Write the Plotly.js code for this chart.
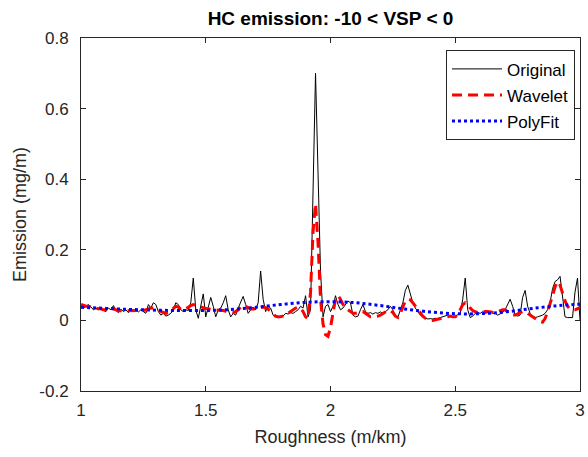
<!DOCTYPE html>
<html><head><meta charset="utf-8">
<script src="https://cdn.plot.ly/plotly-3.0.1.min.js"></script>
<style>html,body{margin:0;padding:0;background:#fff}#chart{width:588px;height:457px}</style>
</head><body><div id="chart"></div>
<script>
const roughness = [
1.00,1.01,1.02,1.03,1.04,1.05,1.06,1.07,1.08,1.09,
1.10,1.11,1.12,1.13,1.14,1.15,1.16,1.17,1.18,1.19,
1.20,1.21,1.22,1.23,1.24,1.25,1.26,1.27,1.28,1.29,
1.30,1.31,1.32,1.33,1.34,1.35,1.36,1.37,1.38,1.39,
1.40,1.41,1.42,1.43,1.44,1.45,1.46,1.47,1.48,1.49,
1.50,1.51,1.52,1.53,1.54,1.55,1.56,1.57,1.58,1.59,
1.60,1.61,1.62,1.63,1.64,1.65,1.66,1.67,1.68,1.69,
1.70,1.71,1.72,1.73,1.74,1.75,1.76,1.77,1.78,1.79,
1.80,1.81,1.82,1.83,1.84,1.85,1.86,1.87,1.88,1.89,
1.90,1.91,1.92,1.93,1.94,1.95,1.96,1.97,1.98,1.99,
2.00,2.01,2.02,2.03,2.04,2.05,2.06,2.07,2.08,2.09,
2.10,2.11,2.12,2.13,2.14,2.15,2.16,2.17,2.18,2.19,
2.20,2.21,2.22,2.23,2.24,2.25,2.26,2.27,2.28,2.29,
2.30,2.31,2.32,2.33,2.34,2.35,2.36,2.37,2.38,2.39,
2.40,2.41,2.42,2.43,2.44,2.45,2.46,2.47,2.48,2.49,
2.50,2.51,2.52,2.53,2.54,2.55,2.56,2.57,2.58,2.59,
2.60,2.61,2.62,2.63,2.64,2.65,2.66,2.67,2.68,2.69,
2.70,2.71,2.72,2.73,2.74,2.75,2.76,2.77,2.78,2.79,
2.80,2.81,2.82,2.83,2.84,2.85,2.86,2.87,2.88,2.89,
2.90,2.91,2.92,2.93,2.94,2.95,2.96,2.97,2.98,2.99,
3.00];

const original = [
0.045,0.035,0.04,0.045,0.038,0.03,0.035,0.03,0.038,0.028,
0.025,0.035,0.03,0.042,0.028,0.022,0.032,0.025,0.03,0.022,
0.03,0.026,0.028,0.024,0.03,0.025,0.02,0.045,0.035,0.05,
0.045,0.025,0.015,0.02,0.012,0.015,0.02,0.03,0.05,0.045,
0.03,0.025,0.03,0.028,0.05,0.12,0.03,0.006,0.045,0.075,
0.01,0.04,0.065,0.04,0.01,0.03,0.035,0.05,0.07,0.03,
0.01,0.02,0.015,0.035,0.05,0.068,0.045,0.02,0.03,0.038,
0.03,0.05,0.14,0.06,0.025,0.04,0.035,0.015,0.01,0.012,
0.008,0.012,0.02,0.018,0.022,0.02,0.025,0.03,0.04,0.035,
0.07,0.01,0.03,0.37,0.70,0.42,0.14,0.01,0.04,0.045,
0.025,0.04,0.07,0.045,0.03,0.035,0.045,0.055,0.05,0.015,
0.01,0.012,0.03,0.045,0.025,0.02,0.022,0.018,0.022,0.02,
0.024,0.02,0.025,0.03,0.04,0.03,0.012,0.008,0.03,0.05,
0.085,0.1,0.075,0.05,0.035,0.025,0.015,0.01,0.006,0.004,
0.005,0.004,0.006,0.005,0.008,0.01,0.012,0.015,0.012,0.01,
0.012,0.015,0.02,0.06,0.12,0.03,0.008,0.012,0.02,0.022,
0.02,0.025,0.02,0.022,0.025,0.02,0.02,0.015,0.018,0.022,
0.03,0.045,0.06,0.04,0.015,0.012,0.015,0.065,0.085,0.04,
0.02,0.01,0.008,0.01,0.012,0.015,0.02,0.03,0.05,0.09,
0.11,0.115,0.125,0.06,0.01,0.008,0.008,0.008,0.08,0.12,
0.0];

const wavelet = [
0.045,0.042,0.04,0.04,0.038,0.035,0.035,0.033,0.033,0.03,
0.03,0.032,0.033,0.033,0.03,0.027,0.027,0.027,0.028,0.028,
0.028,0.027,0.027,0.027,0.028,0.028,0.03,0.033,0.035,0.035,
0.033,0.028,0.025,0.022,0.02,0.022,0.028,0.035,0.04,0.038,
0.032,0.03,0.033,0.037,0.042,0.045,0.043,0.04,0.038,0.036,
0.034,0.032,0.03,0.03,0.03,0.03,0.03,0.028,0.026,0.024,
0.022,0.022,0.025,0.03,0.038,0.042,0.04,0.035,0.032,0.032,
0.034,0.036,0.038,0.038,0.036,0.032,0.025,0.018,0.012,0.01,
0.01,0.012,0.015,0.02,0.025,0.03,0.035,0.037,0.035,0.025,
0.01,0.005,0.08,0.25,0.33,0.22,0.06,-0.01,-0.04,-0.045,
-0.02,0.02,0.06,0.07,0.06,0.045,0.035,0.03,0.025,0.02,
0.02,0.022,0.025,0.025,0.02,0.015,0.01,0.01,0.01,0.012,
0.015,0.02,0.025,0.028,0.028,0.022,0.012,0.008,0.02,0.04,
0.055,0.06,0.058,0.05,0.04,0.03,0.02,0.012,0.006,0.002,
0,0,0.002,0.004,0.006,0.008,0.01,0.012,0.012,0.01,
0.01,0.015,0.03,0.045,0.05,0.045,0.035,0.028,0.025,0.022,
0.022,0.024,0.025,0.025,0.024,0.022,0.022,0.025,0.028,0.03,
0.03,0.025,0.02,0.015,0.015,0.018,0.022,0.025,0.025,0.02,
0.015,0.01,0.005,0,-0.004,-0.005,0.005,0.025,0.045,0.07,
0.095,0.11,0.1,0.075,0.055,0.04,0.032,0.03,0.03,0.033,
0.035];

const polyRoughness = [1.0,1.1,1.2,1.3,1.4,1.5,1.6,1.7,1.8,1.9,2.0,2.1,2.2,2.3,2.4,2.5,2.6,2.7,2.8,2.9,3.0];
const polyFit = [0.037,0.034,0.031,0.029,0.028,0.028,0.031,0.037,0.045,0.051,0.053,0.05,0.042,0.032,0.024,0.019,0.019,0.024,0.033,0.041,0.046];

const xTickValues = [1, 1.5, 2, 2.5, 3];
const xTickLabels = ['1', '1.5', '2', '2.5', '3'];
const yTickValues = [-0.2, 0, 0.2, 0.4, 0.6, 0.8];
const yTickLabels = ['-0.2', '0', '0.2', '0.4', '0.6', '0.8'];

const axisColor = '#262626';
const fontFamily = '"Liberation Sans", Arial, Helvetica, sans-serif';

const traces = [
  {x: roughness, y: original, type: 'scatter', mode: 'lines', name: 'Original', legendgroup: 'a',
   line: {color: '#000000', width: 1}},
  {x: roughness, y: wavelet, type: 'scatter', mode: 'lines', name: 'Wavelet', legendgroup: 'b',
   line: {color: '#ff0000', width: 3, dash: '10px,6px'}},
  {x: polyRoughness, y: polyFit, type: 'scatter', mode: 'lines', name: 'PolyFit', legendgroup: 'c',
   line: {color: '#0000ff', width: 3, dash: 'dot', shape: 'spline'}}
];

const axisCommon = {
  showline: true, linecolor: axisColor, linewidth: 1, mirror: 'ticks',
  ticks: 'inside', ticklen: 5, tickwidth: 1, tickcolor: axisColor,
  showgrid: false, zeroline: false, tickfont: {size: 17, color: axisColor, family: fontFamily}
};

const layout = {
  width: 588, height: 457,
  margin: {l: 81, r: 8, t: 38, b: 66, pad: 0},
  paper_bgcolor: '#ffffff', plot_bgcolor: '#ffffff',
  font: {family: fontFamily, color: axisColor},
  showlegend: true,
  title: {text: 'HC emission: -10 &lt; VSP &lt; 0', xref: 'paper', x: 0.5, xanchor: 'center',
          yref: 'container', y: 1 - 18/457, yanchor: 'middle',
          font: {size: 19, color: '#000000', family: fontFamily, weight: 'bold'}},
  xaxis: Object.assign({}, axisCommon, {
    range: [1, 3], tickmode: 'array', tickvals: xTickValues, ticktext: xTickLabels,
    ticklabelstandoff: 4,
    title: {text: 'Roughness (m/km)', font: {size: 18, color: axisColor, family: fontFamily}, standoff: 10}
  }),
  yaxis: Object.assign({}, axisCommon, {
    range: [-0.2, 0.8], tickmode: 'array', tickvals: yTickValues, ticktext: yTickLabels,
    ticklabelstandoff: 8,
    title: {text: 'Emission (mg/m)', font: {size: 18, color: axisColor, family: fontFamily}, standoff: 8}
  }),
  legend: {x: 0.99, xanchor: 'right', y: 0.965, yanchor: 'top', bgcolor: '#ffffff',
           bordercolor: axisColor, borderwidth: 1, font: {size: 17, color: '#000000', family: fontFamily},
           traceorder: 'grouped', tracegroupgap: 1, itemwidth: 50}
};

Plotly.newPlot('chart', traces, layout, {displayModeBar: false, staticPlot: true});
</script>
</body></html>
